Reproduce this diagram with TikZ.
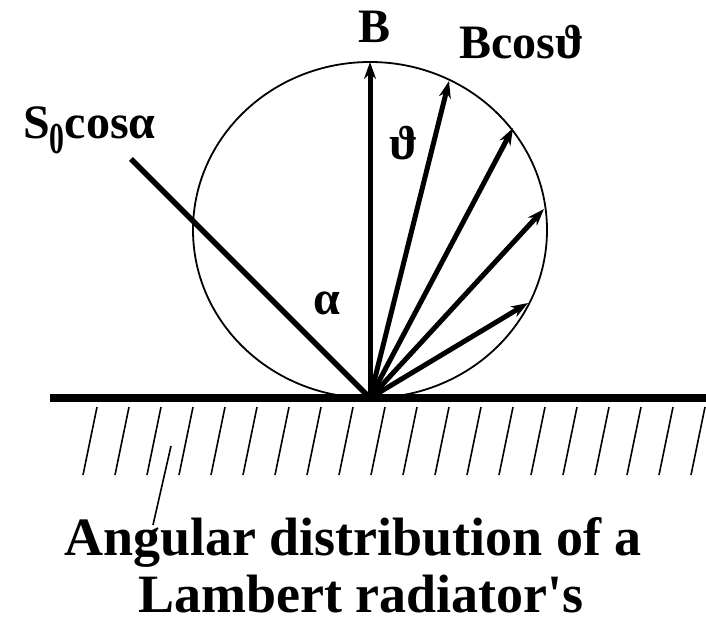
\documentclass[tikz,border=0pt]{standalone}
\usepackage{fontspec}
\setmainfont{Liberation Serif}[Ligatures=TeXOff]
\usetikzlibrary{arrows.meta}

\begin{document}
\begin{tikzpicture}[x=1pt,y=1pt,
  ray/.style={line width=5pt,-{Stealth[length=17pt,width=12pt]}},
  lbl/.style={font=\fontsize{48}{52}\selectfont\bfseries,inner sep=0pt},
  capt/.style={font=\fontsize{54}{56}\selectfont\bfseries,inner sep=0pt,anchor=base}]
\useasboundingbox (0,0) rectangle (706,621);
\coordinate (O) at (370,223);
\coordinate (ctr) at (370,391);
\draw[line width=1.8pt] (ctr) ellipse [x radius=177,y radius=168];
% surface and hatching
\draw[line width=8pt] (50,223) -- (706,223);
\foreach \x in {0,...,19} \draw[line width=1.6pt] ({97+32*\x},214) -- ({83+32*\x},146);
% incident direction
\draw[line width=5.5pt] (O) -- ++(135:338) coordinate (src);
% emitted intensities
\coordinate (top) at (370,559);
\coordinate (t1) at (449,540);
\coordinate (t2) at (513,493);
\coordinate (t3) at (544,412);
\coordinate (t4) at (528,318);
\foreach \t in {top,t1,t2,t3,t4} \draw[ray] (O) -- (\t);
\node[lbl] (b) at (375,594) {B};
\node[lbl] (bcos) at (522,579) {Bcos\char"03D1};
\node[lbl,anchor=base west] (s0) at (23,482) {S\raisebox{-15pt}{\scalebox{0.62}[0.92]{0}}cos\char"03B1};
\node[lbl] (th) at (404,478) {\char"03D1};
\node[lbl] (al) at (327,318) {\char"03B1};
% caption
\node[capt] (cap1) at (353,66) {Angular distribution of a};
\node[capt] (cap2) at (361,9) {Lambert radiator's};
\coordinate (lead) at (171,175);
\coordinate (ldend) at (153,96);
\draw[line width=1.6pt] (lead) -- (ldend);
\end{tikzpicture}
\end{document}
